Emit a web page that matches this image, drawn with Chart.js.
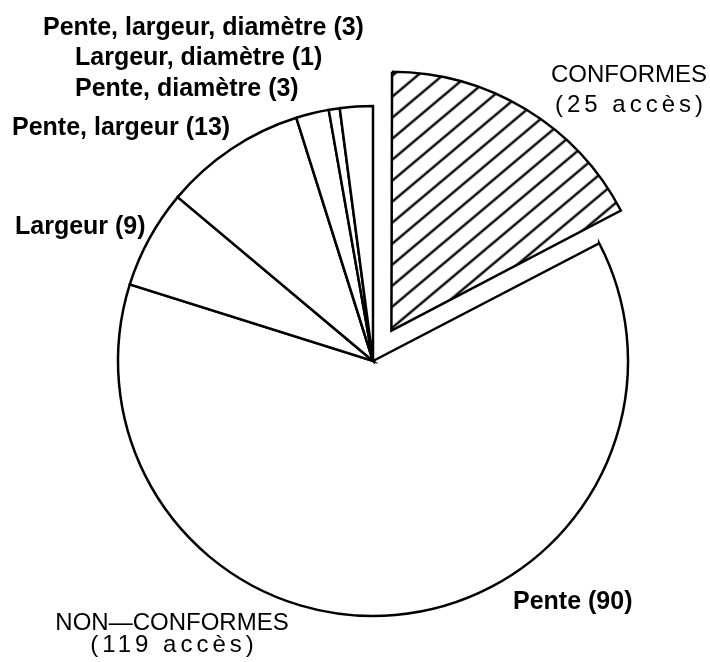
<!DOCTYPE html>
<html>
<head>
<meta charset="utf-8">
<script src="https://cdn.jsdelivr.net/npm/chart.js@4/dist/chart.umd.min.js"></script>
<style>
  html, body { margin: 0; padding: 0; background: #ffffff; }
  #wrap { width: 710px; height: 662px; }
</style>
</head>
<body>
<div id="wrap"><canvas id="c" width="710" height="662"></canvas></div>
<script>
// ---- data ----
const categories = ['CONFORMES', 'Pente', 'Largeur', 'Pente, largeur', 'Pente, diamètre', 'Largeur, diamètre', 'Pente, largeur, diamètre'];
const values = [25, 90, 9, 13, 3, 1, 3];
const groupNames = ['CONFORMES', 'NON\u2014CONFORMES'];
const groupUnit = 'accès';

// ---- styles / layout (not data) ----
const nonConfTotal = values.slice(1).reduce((a, b) => a + b, 0);
const groupTotals = [values[0], nonConfTotal];

function makeHatch() {
  const w = 25, h = 21;
  const c = document.createElement('canvas');
  c.width = w; c.height = h;
  const g = c.getContext('2d');
  g.fillStyle = '#ffffff';
  g.fillRect(0, 0, w, h);
  g.strokeStyle = '#000000';
  g.lineWidth = 2.4;
  g.lineCap = 'square';
  g.beginPath();
  g.moveTo(-w, 2 * h); g.lineTo(2 * w, -h);
  g.moveTo(-2 * w, 2 * h); g.lineTo(w, -h);
  g.moveTo(0, 2 * h); g.lineTo(3 * w, -h);
  g.stroke();
  return g.createPattern(c, 'repeat');
}
const hatch = makeHatch();

// label layout: dx, dy relative to pie centre; align
const sliceLabelLayout = [
  null,
  { dx: 140, dy: 241, align: 'left' },   // Pente
  { dx: -358, dy: -134, align: 'left' }, // Largeur
  { dx: -361, dy: -233, align: 'left' }, // Pente, largeur
  { dx: -298, dy: -272, align: 'left' }, // Pente, diamètre
  { dx: -298, dy: -303, align: 'left' }, // Largeur, diamètre
  { dx: -330, dy: -333, align: 'left' }  // Pente, largeur, diamètre
];
const groupLabelLayout = [
  { dx: 256, dy: -286, lineGap: 30 },
  { dx: -201, dy: 262, lineGap: 22 }
];

const labelPlugin = {
  id: 'labels',
  afterDatasetsDraw(chart) {
    const ctx = chart.ctx;
    const arc0 = chart.getDatasetMeta(0).data[1];
    const cx = arc0.x, cy = arc0.y;
    ctx.save();
    ctx.fillStyle = '#000000';
    ctx.textBaseline = 'middle';
    ctx.font = 'bold 25px "Liberation Sans", Arial, sans-serif';
    for (let i = 1; i < categories.length; i++) {
      const L = sliceLabelLayout[i];
      ctx.textAlign = L.align;
      ctx.fillText(categories[i] + ' (' + values[i] + ')', cx + L.dx, cy + L.dy);
    }
    ctx.font = '24px "Liberation Sans", Arial, sans-serif';
    ctx.textAlign = 'center';
    for (let g = 0; g < groupNames.length; g++) {
      const L = groupLabelLayout[g];
      ctx.letterSpacing = '0px';
      ctx.fillText(groupNames[g], cx + L.dx, cy + L.dy);
      ctx.letterSpacing = '4px';
      ctx.fillText('(' + groupTotals[g] + ' ' + groupUnit + ')', cx + L.dx + 2, cy + L.dy + L.lineGap);
    }
    ctx.restore();
  }
};

new Chart(document.getElementById('c'), {
  type: 'pie',
  data: {
    labels: categories,
    datasets: [{
      data: values,
      backgroundColor: [hatch, '#ffffff', '#ffffff', '#ffffff', '#ffffff', '#ffffff', '#ffffff'],
      borderColor: '#000000',
      borderWidth: 2.5,
      borderJoinStyle: 'miter',
      offset: [142, 0, 0, 0, 0, 0, 0],
      radius: 255
    }]
  },
  options: {
    responsive: false,
    animation: false,
    layout: { padding: { left: 36, right: 0, top: 60, bottom: 0 } },
    plugins: {
      legend: { display: false },
      tooltip: { enabled: false }
    }
  },
  plugins: [labelPlugin]
});
</script>
</body>
</html>
